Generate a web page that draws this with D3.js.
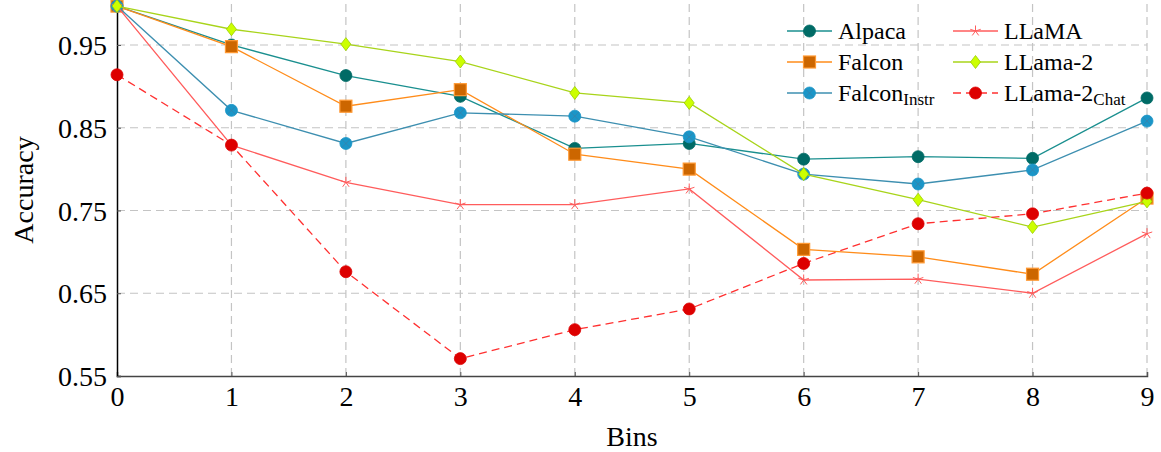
<!DOCTYPE html>
<html>
<head>
<meta charset="utf-8">
<script src="https://cdn.jsdelivr.net/npm/d3@7"></script>
<style>
body { margin: 0; background: #fff; }
text { font-family: "Liberation Serif", "Times New Roman", serif; fill: #000; }
</style>
</head>
<body>
<script>
// values
var bins = [0, 1, 2, 3, 4, 5, 6, 7, 8, 9];
var yTicks = [0.55, 0.65, 0.75, 0.85, 0.95];

var alpaca      = [0.997, 0.950, 0.913, 0.888, 0.825, 0.831, 0.812, 0.815, 0.813, 0.886];
var falcon      = [0.997, 0.948, 0.876, 0.896, 0.818, 0.800, 0.703, 0.694, 0.673, 0.765];
var falconInstr = [0.997, 0.871, 0.831, 0.868, 0.864, 0.839, 0.794, 0.782, 0.799, 0.858];
var llama       = [0.997, 0.829, 0.784, 0.757, 0.757, 0.776, 0.666, 0.667, 0.650, 0.722];
var llama2      = [0.997, 0.969, 0.951, 0.930, 0.892, 0.880, 0.794, 0.763, 0.730, 0.761];
var llama2Chat  = [0.914, 0.829, 0.676, 0.571, 0.606, 0.631, 0.686, 0.734, 0.746, 0.771];

var seriesNames = ["Alpaca", "Falcon", "Falcon", "LLaMA", "LLama-2", "LLama-2"];
var seriesSubs  = ["", "", "Instr", "", "", "Chat"];

var series = [
  {vals: alpaca,      line: "#1a8f8f", fill: "#006b66", stroke: "#006b66", mark: "circle"},
  {vals: falcon,      line: "#ff8c1a", fill: "#cc6600", stroke: "#ff9933", mark: "square"},
  {vals: falconInstr, line: "#3d8fb0", fill: "#1a96c8", stroke: "#1a96c8", mark: "otimes"},
  {vals: llama,       line: "#ff5c5c", fill: "none",    stroke: "#ff5c5c", mark: "star"},
  {vals: llama2,      line: "#a8d41a", fill: "#ccff00", stroke: "#99cc00", mark: "diamond"},
  {vals: llama2Chat,  line: "#ff3030", fill: "#dd0000", stroke: "#dd0000", mark: "circle", dash: "8,5"}
];

var width = 1161, height = 452;
var margin = {left: 117, right: 14, top: 3.6, bottom: 76};

var x = d3.scaleLinear().domain([0, 9]).range([margin.left, width - margin.right]);
var y = d3.scaleLinear().domain([0.55, 1.0]).range([height - margin.bottom, margin.top]);

var svg = d3.select("body").append("svg")
  .attr("width", width)
  .attr("height", height);

// grid
var grid = svg.append("g").attr("class", "grid");
grid.selectAll("line.v").data(bins.slice(1)).enter().append("line")
  .attr("x1", function(d){ return x(d); }).attr("x2", function(d){ return x(d); })
  .attr("y1", y(0.55)).attr("y2", 0)
  .attr("stroke", "#c4c4c4").attr("stroke-width", 1.2).attr("stroke-dasharray", "8,5");
grid.selectAll("line.h").data(yTicks.slice(1)).enter().append("line")
  .attr("x1", x(0)).attr("x2", width - margin.right)
  .attr("y1", function(d){ return y(d); }).attr("y2", function(d){ return y(d); })
  .attr("stroke", "#c4c4c4").attr("stroke-width", 1.2).attr("stroke-dasharray", "8,5");

// axes
var xAxis = d3.axisBottom(x).tickValues(bins).tickSize(-4).tickPadding(14).tickFormat(d3.format("d"));
var yAxis = d3.axisLeft(y).tickValues(yTicks).tickSize(-4).tickPadding(10).tickFormat(d3.format(".2f"));

var gx = svg.append("g").attr("transform", "translate(0," + y(0.55) + ")").call(xAxis);
var gy = svg.append("g").attr("transform", "translate(" + x(0) + ",0)").call(yAxis);
gx.select(".domain").attr("stroke", "#444").attr("stroke-width", 1.5);
gy.select(".domain").attr("stroke", "#000").attr("stroke-width", 1.5);
gx.selectAll(".tick line").attr("stroke", "#555");
gy.selectAll(".tick line").attr("stroke", "#555");
gx.selectAll("text").style("font-size", "28px").attr("font-family", null).attr("dy", "0.71em");
gy.selectAll("text").style("font-size", "28px").attr("font-family", null).attr("dy", "0.34em");
gx.selectAll(".tick text").attr("y", 10);

svg.append("text").attr("x", (x(0) + x(9)) / 2).attr("y", 446)
  .attr("text-anchor", "middle").style("font-size", "28px").text("Bins");
svg.append("text").attr("transform", "translate(33," + 190 + ") rotate(-90)")
  .attr("text-anchor", "middle").style("font-size", "28px").text("Accuracy");

// markers
function drawMark(g, s, cx, cy) {
  if (s.mark === "circle" || s.mark === "otimes") {
    g.append("circle").attr("cx", cx).attr("cy", cy).attr("r", 6)
      .attr("fill", s.fill).attr("stroke", s.stroke).attr("stroke-width", 0.8);
    if (s.mark === "otimes") {
      var r = 4;
      g.append("path").attr("d", "M" + (cx - r) + "," + (cy - r) + "L" + (cx + r) + "," + (cy + r) +
        "M" + (cx - r) + "," + (cy + r) + "L" + (cx + r) + "," + (cy - r))
        .attr("stroke", "#3c7fa6").attr("stroke-width", 0.7).attr("fill", "none");
    }
  } else if (s.mark === "square") {
    g.append("rect").attr("x", cx - 6).attr("y", cy - 6).attr("width", 12).attr("height", 12)
      .attr("fill", s.fill).attr("stroke", s.stroke).attr("stroke-width", 1.2);
  } else if (s.mark === "diamond") {
    g.append("path").attr("d", "M" + cx + "," + (cy - 6.5) + "L" + (cx + 5) + "," + cy +
      "L" + cx + "," + (cy + 6.5) + "L" + (cx - 5) + "," + cy + "Z")
      .attr("fill", s.fill).attr("stroke", s.stroke).attr("stroke-width", 0.8);
  } else if (s.mark === "star") {
    var p = "";
    for (var k = 0; k < 5; k++) {
      var a = -Math.PI / 2 + k * 2 * Math.PI / 5;
      p += "M" + cx + "," + cy + "L" + (cx + 5.5 * Math.cos(a)) + "," + (cy + 5.5 * Math.sin(a));
    }
    g.append("path").attr("d", p).attr("stroke", s.stroke).attr("stroke-width", 1).attr("fill", "none");
  }
}

var line = d3.line().x(function(d, i){ return x(bins[i]); }).y(function(d){ return y(d); });

series.forEach(function(s) {
  var g = svg.append("g");
  g.append("path").attr("d", line(s.vals))
    .attr("fill", "none").attr("stroke", s.line).attr("stroke-width", 1.3)
    .attr("stroke-dasharray", s.dash || null);
  s.vals.forEach(function(v, i){ drawMark(g, s, x(bins[i]), y(v)); });
});

// legend, two columns
var legend = svg.append("g");
series.forEach(function(s, i) {
  var col = i < 3 ? 0 : 1, row = i % 3;
  var lx = col === 0 ? 787 : 953, ly = 31 + row * 31;
  var g = legend.append("g");
  g.append("line").attr("x1", lx).attr("x2", lx + 45).attr("y1", ly).attr("y2", ly)
    .attr("stroke", s.line).attr("stroke-width", 1.3).attr("stroke-dasharray", s.dash || null);
  drawMark(g, s, lx + 22.5, ly);
  var t = g.append("text").attr("x", lx + 51).attr("y", ly + 8).style("font-size", "24px");
  t.append("tspan").text(seriesNames[i]);
  if (seriesSubs[i]) {
    t.append("tspan").attr("dy", 4).style("font-size", "17px").text(seriesSubs[i]);
  }
});
</script>
</body>
</html>
